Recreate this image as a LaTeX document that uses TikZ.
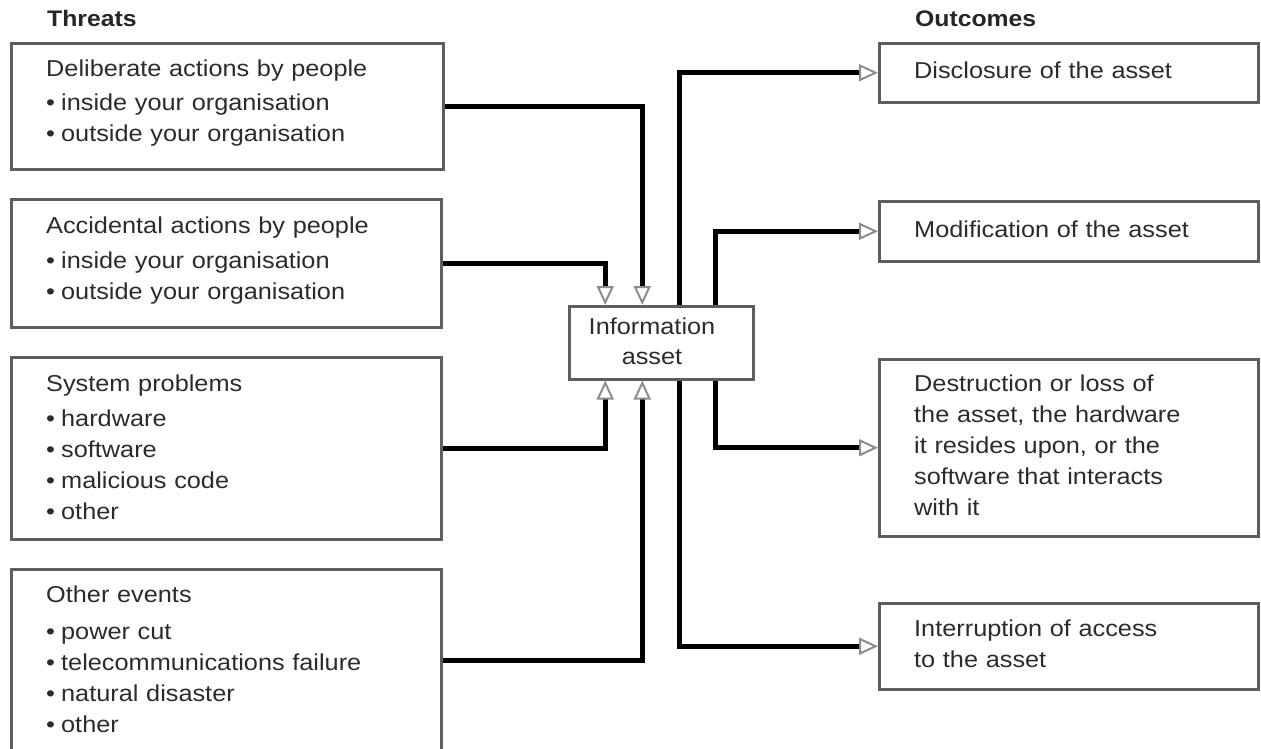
\documentclass[tikz,border=0pt]{standalone}
\usepackage{fontspec}
\setmainfont{Liberation Sans}[FakeStretch=1.1]
\usetikzlibrary{arrows.meta}

\definecolor{ink}{HTML}{2E2A2A}
\definecolor{frame}{HTML}{5E5E5E}
\definecolor{tipgray}{HTML}{8C8C8C}

\newcommand\blt{\makebox[15pt][l]{\textbullet}}

\tikzset{
  box/.style={draw=frame, line width=2.5pt, rectangle, inner sep=0pt, anchor=north west},
  txt/.style={anchor=base west, inner sep=0pt, text=ink,
    font=\fontsize{23}{31}\selectfont, text width=400pt, align=left},
  midtxt/.style={anchor=base, inner sep=0pt, text=ink,
    font=\fontsize{23}{30}\selectfont, text width=170pt, align=center},
  head/.style={anchor=base west, inner sep=0pt, text=black!85,
    font=\fontsize{22.5}{26}\selectfont\bfseries},
  conn/.style={line width=5pt, draw=black,
    -{Triangle[open, length=19pt, width=17pt, line width=2pt, color=tipgray]}},
}

\begin{document}
\begin{tikzpicture}[x=1pt, y=-1pt]
  \useasboundingbox (0,0) rectangle (1261,748);
  \clip (0,0) rectangle (1261,748);

  % column headings
  \node[head] (hthreats)  at (47,26)  {Threats};
  \node[head] (houtcomes) at (915,26) {Outcomes};

  % threat boxes
  \node[box, minimum width=432pt, minimum height=126pt] (t1) at (10,42)  {};
  \node[box, minimum width=430pt, minimum height=128pt] (t2) at (10,198) {};
  \node[box, minimum width=430pt, minimum height=182pt] (t3) at (10,356) {};
  \node[box, minimum width=430pt, minimum height=182pt] (t4) at (10,568) {};

  \node[txt] (t1txt) at (46,76)  {Deliberate actions by people\\[3pt]
    \blt inside your organisation\\ \blt outside your organisation};
  \node[txt] (t2txt) at (46,233) {Accidental actions by people\\[4pt]
    \blt inside your organisation\\ \blt outside your organisation};
  \node[txt] (t3txt) at (46,391) {System problems\\[4pt]
    \blt hardware\\ \blt software\\ \blt malicious code\\ \blt other};
  \node[txt] (t4txt) at (46,602) {Other events\\[6pt]
    \blt power cut\\ \blt telecommunications failure\\ \blt natural disaster\\ \blt other};

  % central asset
  \node[box, minimum width=184pt, minimum height=73pt] (info) at (568,305) {};
  \node[midtxt] (infotxt) at (652,334) {Information\\asset};

  % outcome boxes
  \node[box, minimum width=379pt, minimum height=59pt]  (o1) at (878,42)  {};
  \node[box, minimum width=379pt, minimum height=60pt]  (o2) at (878,200) {};
  \node[box, minimum width=379pt, minimum height=177pt] (o3) at (878,358) {};
  \node[box, minimum width=379pt, minimum height=86pt]  (o4) at (878,602) {};

  \node[txt, text width=340pt] (o1txt) at (914,78)  {Disclosure of the asset};
  \node[txt, text width=340pt] (o2txt) at (914,237) {Modification of the asset};
  \node[txt, text width=340pt] (o3txt) at (914,391) {Destruction or loss of\\
    the asset, the hardware\\ it resides upon, or the\\
    software that interacts\\ with it};
  \node[txt, text width=340pt] (o4txt) at (914,636) {Interruption of access\\to the asset};

  % threats into the asset
  \draw[conn] (t1.east) -| ([xshift=-19pt]info.north);
  \draw[conn] (t2.east) -| ([xshift=-56pt]info.north);
  \draw[conn] (t3.east) -| ([xshift=-56pt]info.south);
  \draw[conn] (t4.east) -| ([xshift=-19pt]info.south);

  % asset out to outcomes
  \draw[conn] ([xshift=18pt]info.north) |- (o1.west);
  \draw[conn] ([xshift=54pt]info.north) |- (o2.west);
  \draw[conn] ([xshift=54pt]info.south) |- (o3.west);
  \draw[conn] ([xshift=18pt]info.south) |- (o4.west);
\end{tikzpicture}
\end{document}
